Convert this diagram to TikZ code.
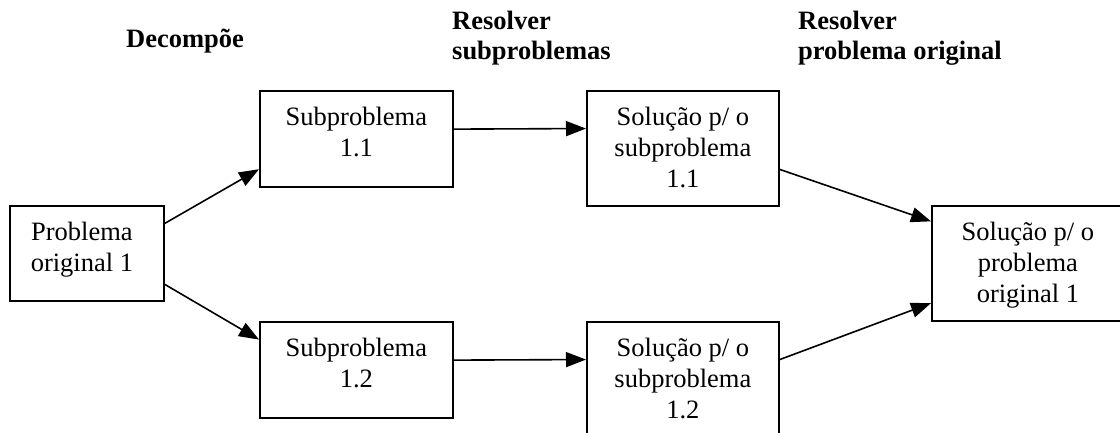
\documentclass[tikz,border=0pt]{standalone}
\usepackage{fontspec}
\setmainfont{Liberation Serif}
\usetikzlibrary{arrows.meta,calc}

\tikzset{
  box/.style={draw=black, line width=1.8pt, rectangle, inner sep=0pt,
    anchor=north west},
  boxtext/.style={anchor=north, align=center, inner sep=0pt,
    font=\fontsize{26.5}{31}\selectfont},
  header/.style={anchor=north west, align=left, inner sep=0pt,
    font=\fontsize{26.5}{30}\selectfont\bfseries},
  link/.style={line width=1.6pt, -{Triangle[length=20pt,width=15pt]}}
}

\begin{document}
\begin{tikzpicture}[x=1pt, y=-1pt]
  \useasboundingbox (0,0) rectangle (1120,432);
  \clip (0,0) rectangle (1120,432);

  % column headings
  \node[header] (hdec) at (126,26.3) {\strut Decompõe};
  \node[header] (hsub) at (452,8.3)  {\strut Resolver\\subproblemas};
  \node[header] (horg) at (798,8.3)  {\strut Resolver\\problema original};

  % boxes
  \node[box, minimum width=154pt, minimum height=95pt]  (p0)  at (9,205)   {};
  \node[box, minimum width=193pt, minimum height=96pt]  (s11) at (259,90)  {};
  \node[box, minimum width=193pt, minimum height=96pt]  (s12) at (259,321) {};
  \node[box, minimum width=192pt, minimum height=115pt] (r11) at (586,90)  {};
  \node[box, minimum width=192pt, minimum height=115pt] (r12) at (586,321) {};
  \node[box, minimum width=192pt, minimum height=115pt] (rf)  at (931,205) {};

  % box texts
  \node[boxtext, yshift=-13.8pt, xshift=-5pt] (p0t) at (p0.north) {\strut Problema\\original 1};
  \node[boxtext, yshift=-13.8pt] (s11t) at (s11.north) {\strut Subproblema\\1.1};
  \node[boxtext, yshift=-13.8pt] (s12t) at (s12.north) {\strut Subproblema\\1.2};
  \node[boxtext, yshift=-13.8pt] (r11t) at (r11.north) {\strut Solução p/ o\\subproblema\\1.1};
  \node[boxtext, yshift=-13.8pt] (r12t) at (r12.north) {\strut Solução p/ o\\subproblema\\1.2};
  \node[boxtext, yshift=-13.8pt] (rft)  at (rf.north)  {\strut Solução p/ o\\problema\\original 1};

  % connectors
  \draw[link] ($(p0.north east)!0.19!(p0.south east)$) -- ($(s11.north west)!0.81!(s11.south west)$);
  \draw[link] ($(p0.north east)!0.82!(p0.south east)$) -- ($(s12.north west)!0.19!(s12.south west)$);
  \draw[link] ($(s11.north east)!0.40!(s11.south east)$) -- ($(r11.north west)!0.33!(r11.south west)$);
  \draw[link] ($(s12.north east)!0.40!(s12.south east)$) -- ($(r12.north west)!0.33!(r12.south west)$);
  \draw[link] ($(r11.north east)!0.68!(r11.south east)$) -- ($(rf.north west)!0.14!(rf.south west)$);
  \draw[link] ($(r12.north east)!0.33!(r12.south east)$) -- ($(rf.north west)!0.84!(rf.south west)$);
\end{tikzpicture}
\end{document}
